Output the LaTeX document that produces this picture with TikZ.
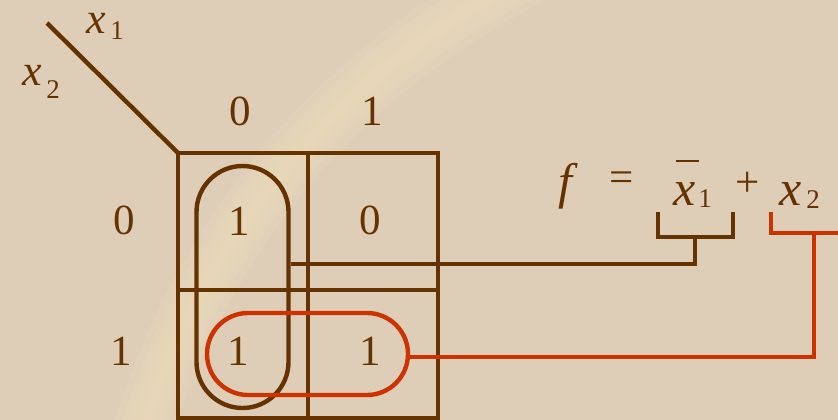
\documentclass[tikz,border=0pt]{standalone}
\usepackage{fontspec}
\setmainfont{Liberation Serif}
\definecolor{bg}{RGB}{222,206,184}
\definecolor{glow}{RGB}{238,222,188}
\definecolor{kbrown}{RGB}{102,51,0}
\definecolor{kred}{RGB}{204,51,0}
\tikzset{
  txt/.style={text=kbrown, inner sep=0pt, font=\fontsize{43}{43}\selectfont},
  itx/.style={text=kbrown, inner sep=0pt, font=\fontsize{44}{44}\selectfont\itshape},
  bigx/.style={text=kbrown, inner sep=0pt, font=\fontsize{50}{50}\selectfont\itshape},
  sub/.style={text=kbrown, inner sep=0pt, font=\fontsize{27}{27}\selectfont},
  bline/.style={draw=kbrown, line width=4.4pt},
  rline/.style={draw=kred, line width=4.4pt},
  loopb/.style={bline, rectangle, rounded corners=46pt, inner sep=0pt},
  loopr/.style={rline, rectangle, rounded corners=41pt, inner sep=0pt},
  glowpath/.style={glow, line cap=round, opacity=0.22}
}
\begin{document}
\begin{tikzpicture}[x=1pt,y=-1pt]
\fill[bg] (0,0) rectangle (838,420);
\useasboundingbox (0,0) rectangle (838,420);
\begin{scope}
\clip (0,0) rectangle (838,420);
\foreach \w in {60,45,32,20,10}{
  \draw[glowpath, line width=\w pt] (140,440) .. controls (200,240) and (330,80) .. (520,-20);
}
\end{scope}
% diagonal and labels
\coordinate (dtop) at (47,23);
\coordinate (corner) at (178,153);
\draw[bline] (dtop) -- (corner);
\node[itx] (xa) at (96,23) {x};
\node[sub] (xas) at (117,31) {1};
\node[itx] (xb) at (32,75) {x};
\node[sub] (xbs) at (53,90) {2};
% grid
\coordinate (gbr) at (438,418);
\draw[bline] (corner) rectangle (gbr);
\coordinate (mtop) at (308,153);
\coordinate (mbot) at (308,418);
\draw[bline] (mtop) -- (mbot);
\coordinate (hl) at (178,290);
\coordinate (hr) at (438,290);
\draw[bline] (hl) -- (hr);
% headers
\node[txt] (c0) at (240,111) {0};
\node[txt] (c1) at (372,111) {1};
\node[txt] (r0) at (124,220) {0};
\node[txt] (r1) at (121,351) {1};
% cells
\node[txt] (m00) at (239,221) {1};
\node[txt] (m01) at (370,220) {0};
\node[txt] (m10) at (238,351) {1};
\node[txt] (m11) at (370,351) {1};
% loops
\node[loopb, minimum width=92pt, minimum height=242pt] (bl) at (242.5,287) {};
\node[loopr, minimum width=201pt, minimum height=82pt] (rl) at (307.5,354) {};
% formula
\node[bigx] (ff) at (565,186) {f};
\node[txt] (eq) at (622,182) {=};
\node[bigx] (fx1) at (685,194) {x};
\node[sub] (fx1s) at (705,199) {1};
\coordinate (barl) at (676,161);
\coordinate (barr) at (699,161);
\draw[draw=kbrown, line width=2.4pt] (barl) -- (barr);
\node[txt] (plus) at (748,184) {+};
\node[bigx] (fx2) at (791,194) {x};
\node[sub] (fx2s) at (813,200) {2};
% brown bracket and connector
\coordinate (b1) at (658,212);
\coordinate (b2) at (658,237);
\coordinate (b3) at (733,237);
\coordinate (b4) at (733,212);
\draw[bline] (b1) -- (b2) -- (b3) -- (b4);
\coordinate (bm) at (695,237);
\coordinate (bk) at (695,264);
\draw[bline] (bl.east |- bk) -- (bk) -- (bm);
% red bracket and connector
\coordinate (r1a) at (771,212);
\coordinate (r1b) at (771,233);
\coordinate (r1c) at (840,233);
\draw[rline] (r1a) -- (r1b) -- (r1c);
\coordinate (rm) at (814,233);
\coordinate (rk) at (814,357);
\draw[rline] (rl.east |- rk) -- (rk) -- (rm);
\end{tikzpicture}
\end{document}
